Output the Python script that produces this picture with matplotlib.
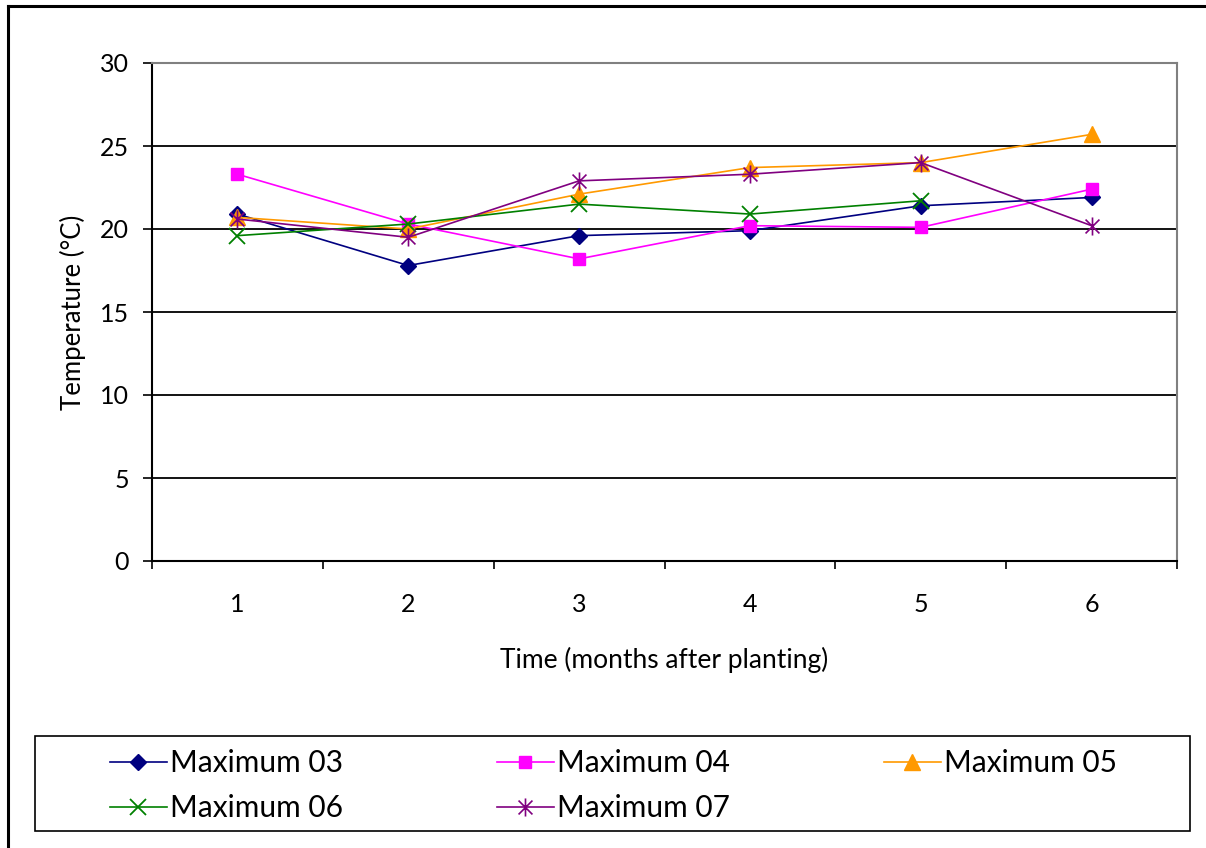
import matplotlib
matplotlib.use("Agg")
import matplotlib.pyplot as plt
from matplotlib.path import Path
from matplotlib.lines import Line2D
from matplotlib.patches import Rectangle
import numpy as np

plt.rcParams['font.family'] = ['Lato', 'DejaVu Sans']

months = [1, 2, 3, 4, 5, 6]
max_03 = [20.9, 17.8, 19.6, 19.9, 21.4, 21.9]
max_04 = [23.3, 20.3, 18.2, 20.2, 20.1, 22.4]
max_05 = [20.7, 20.0, 22.1, 23.7, 24.0, 25.7]
max_06 = [19.6, 20.3, 21.5, 20.9, 21.7, np.nan]
max_07 = [20.6, 19.5, 22.9, 23.3, 24.0, 20.2]
names = ['Maximum 03', 'Maximum 04', 'Maximum 05', 'Maximum 06', 'Maximum 07']

# excel style asterisk: an x with a vertical bar
star = Path([(-1, -1), (1, 1), (-1, 1), (1, -1), (0, -1.3), (0, 1.3)],
            [Path.MOVETO, Path.LINETO, Path.MOVETO, Path.LINETO, Path.MOVETO, Path.LINETO])

styles = [
    dict(color='#000080', marker='D', ms=8),
    dict(color='#FF00FF', marker='s', ms=9),
    dict(color='#FF9900', marker='^', ms=11),
    dict(color='#008000', marker='x', ms=11, mew=1.3),
    dict(color='#800080', marker=star, ms=13, mew=1.2),
]

fig = plt.figure(figsize=(12.06, 8.48), dpi=100)
ax = fig.add_axes([152/1206, 1-561/848, (1177-152)/1206, (561-63)/848])

lines = []
for vals, nm, st in zip([max_03, max_04, max_05, max_06, max_07], names, styles):
    ln, = ax.plot(months, vals, lw=1.2, label=nm, **st)
    lines.append(ln)

ax.set_xlim(0.5, 6.5)
ax.set_ylim(0, 30)
ax.set_yticks(range(0, 31, 5))
ax.set_xticks(months)
ax.set_xticks(np.arange(0.5, 7, 1), minor=True)
ax.tick_params(axis='x', which='major', length=0, pad=23, labelsize=18)
ax.tick_params(axis='x', which='minor', length=6, width=1.2, direction='out')
ax.tick_params(axis='y', length=6.5, width=1.2, pad=10, labelsize=18)
for y in range(5, 30, 5):
    ax.axhline(y, color='black', lw=1.3, zorder=0)
for s in ['left', 'bottom']:
    ax.spines[s].set_linewidth(1.5)
for s in ['top', 'right']:
    ax.spines[s].set_color('#808080')
    ax.spines[s].set_linewidth(1.5)

ax.set_ylabel('Temperature (°C)', fontsize=18.5, labelpad=10)
ax.set_xlabel('Time (months after planting)', fontsize=19, labelpad=22)

# legend box drawn separately, entries filled row by row
fig.add_artist(Rectangle((35/1206, 1-831/848), (1190-35)/1206, 95/848,
                         transform=fig.transFigure, fill=False,
                         edgecolor='black', lw=1.2))
order = [0, 3, 1, 4, 2]
leg = fig.legend([lines[i] for i in order], [names[i] for i in order],
                 loc='upper left', ncol=3, fontsize=21.5,
                 bbox_to_anchor=(110/1206, 1-749/848),
                 frameon=False, handlelength=1.9, borderaxespad=0,
                 borderpad=0, labelspacing=0.57, handletextpad=0.12,
                 columnspacing=5.15)

# outer chart border (cut at right and bottom)
fig.add_artist(Line2D([8/1206, 8/1206], [0, 1-6/848], color='black', lw=2.2))
fig.add_artist(Line2D([8/1206, 1], [1-6/848, 1-6/848], color='black', lw=2.2))

fig.savefig('out.png', dpi=100)
